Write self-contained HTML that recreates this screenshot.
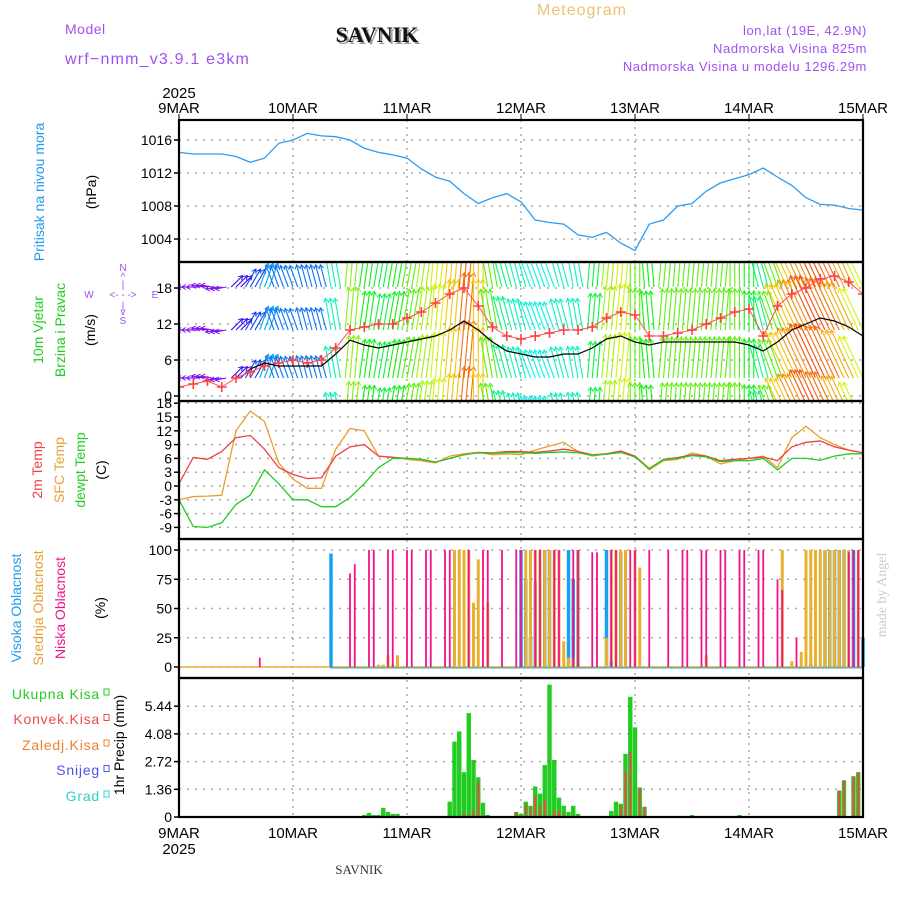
<!DOCTYPE html>
<html><head><meta charset="utf-8">
<style>
html,body{margin:0;padding:0;background:#fff;}
svg{display:block;font-family:"Liberation Sans",sans-serif;}
</style></head>
<body>
<svg id="chart" width="900" height="900" viewBox="0 0 900 900" xmlns="http://www.w3.org/2000/svg">
<defs>
<clipPath id="clipWind"><rect x="179" y="263" width="684" height="137"/></clipPath>
</defs>
<text x="582" y="15" fill="#f0c070" font-size="16" text-anchor="middle" letter-spacing="1">Meteogram</text>
<text x="65" y="34" fill="#a050f0" font-size="14" letter-spacing="0.5">Model</text>
<text x="379" y="44" fill="#999" font-size="22" font-weight="bold" font-family="Liberation Serif,serif" text-anchor="middle">SAVNIK</text>
<text x="377" y="42" fill="#111" font-size="22" font-weight="bold" font-family="Liberation Serif,serif" text-anchor="middle">SAVNIK</text>
<text x="65" y="64" fill="#a050f0" font-size="16" letter-spacing="1.2">wrf−nmm_v3.9.1 e3km</text>
<text x="867" y="35" fill="#a050f0" font-size="13" text-anchor="end" letter-spacing="0.6">lon,lat (19E, 42.9N)</text>
<text x="867" y="53" fill="#a050f0" font-size="13" text-anchor="end" letter-spacing="0.6">Nadmorska Visina 825m</text>
<text x="867" y="71" fill="#a050f0" font-size="13" text-anchor="end" letter-spacing="0.6">Nadmorska Visina u modelu 1296.29m</text>
<text x="179" y="98" fill="#000" font-size="15" text-anchor="middle">2025</text>
<g id="topTicks"></g>
<g id="grid"></g>
<g id="plots"></g>
<g id="frames"></g>
<g id="ylabels"></g>
<text transform="translate(44,192) rotate(-90)" fill="#1e9bf0" font-size="14" text-anchor="middle">Pritisak na nivou mora</text>
<text transform="translate(96,192) rotate(-90)" fill="#000" font-size="14" text-anchor="middle">(hPa)</text>
<text transform="translate(43,330) rotate(-90)" fill="#22cc22" font-size="14" text-anchor="middle">10m Vjetar</text>
<text transform="translate(65,330) rotate(-90)" fill="#22cc22" font-size="14" text-anchor="middle">Brzina i Pravac</text>
<text transform="translate(95,330) rotate(-90)" fill="#000" font-size="14" text-anchor="middle">(m/s)</text>
<g fill="#a050f0" font-size="10" text-anchor="middle">
<text x="123" y="271">N</text><text x="123" y="280">^</text><text x="123" y="288">|</text>
<text x="123" y="298">&lt;- - -&gt;</text><text x="89" y="298">W</text><text x="155" y="298">E</text>
<text x="123" y="309">|</text><text x="123" y="315">v</text><text x="123" y="324">S</text>
</g>
<text transform="translate(42,470) rotate(-90)" fill="#f04040" font-size="14" text-anchor="middle">2m Temp</text>
<text transform="translate(64,470) rotate(-90)" fill="#e8a030" font-size="14" text-anchor="middle">SFC Temp</text>
<text transform="translate(85,470) rotate(-90)" fill="#22cc22" font-size="14" text-anchor="middle">dewpt Temp</text>
<text transform="translate(106,470) rotate(-90)" fill="#000" font-size="14" text-anchor="middle">(C)</text>
<text transform="translate(21,608) rotate(-90)" fill="#1e9bf0" font-size="14" text-anchor="middle">Visoka Oblacnost</text>
<text transform="translate(43,608) rotate(-90)" fill="#e8a030" font-size="14" text-anchor="middle">Srednja Oblacnost</text>
<text transform="translate(65,608) rotate(-90)" fill="#f0148c" font-size="14" text-anchor="middle">Niska Oblacnost</text>
<text transform="translate(105,608) rotate(-90)" fill="#000" font-size="14" text-anchor="middle">(%)</text>
<text transform="translate(124,745) rotate(-90)" fill="#000" font-size="14" text-anchor="middle">1hr Precip (mm)</text>
<g font-size="14" text-anchor="end">
<text x="100" y="699" fill="#22cc22" letter-spacing="0.8">Ukupna Kisa</text>
<text x="100" y="724" fill="#f04848" letter-spacing="0.8">Konvek.Kisa</text>
<text x="100" y="750" fill="#f08030" letter-spacing="0.8">Zaledj.Kisa</text>
<text x="100" y="775" fill="#5050f0" letter-spacing="0.8">Snijeg</text>
<text x="100" y="801" fill="#30d0d0" letter-spacing="0.8">Grad</text>
</g>
<text transform="translate(886,595) rotate(-90)" fill="#ccc" font-size="14" font-family="Liberation Serif,serif" text-anchor="middle">made by Angel</text>
<text x="179" y="854" fill="#000" font-size="15" text-anchor="middle">2025</text>
<text x="359" y="874" fill="#333" font-size="13" font-family="Liberation Serif,serif" text-anchor="middle">SAVNIK</text>
</svg>
<script>
const days = ["9MAR","10MAR","11MAR","12MAR","13MAR","14MAR","15MAR"];
const pressure = [1014.5,1014.3,1014.3,1014.3,1014.0,1013.3,1013.8,1015.6,1016.0,1016.8,1016.5,1016.4,1016.0,1015.0,1014.5,1014.2,1013.8,1012.5,1011.5,1011.0,1009.5,1008.3,1009.0,1009.5,1008.5,1006.3,1006.0,1005.8,1004.5,1004.2,1004.8,1003.5,1002.6,1005.8,1006.3,1008.0,1008.3,1009.8,1010.8,1011.3,1011.8,1012.6,1011.5,1010.5,1009.0,1008.2,1008.1,1007.7,1007.5];
const windSpeed = [2.5,2.5,2.5,2.5,3.5,4.5,5.5,5,5,5,5,7,9.3,8.5,8,8.5,9,9.5,10,11,12.5,11,9,7.5,7,6.5,6.5,7,7,8,9.5,10,9,8.5,9,9,9,9,9,9,8.5,7.5,9,11,12,13,12.5,11.5,10];
const windGust = [1.5,2,2.5,1.5,3,4,5,5.5,6,5.5,6,8,11,11.5,12,12,13,14,15.5,17,18,15,11.5,10,9.5,10,10.5,11,11,11.5,13,14,13.5,10,10,10.5,11,12,13,14,14.5,10,15,17,18,19.5,20,19,17];
const windDir = [270,270,280,260,45,30,20,-20,-20,-15,-15,-10,5,8,10,10,10,8,5,5,5,0,-10,-15,-15,-20,-20,-15,-10,5,5,5,0,-5,5,5,5,5,5,0,0,-15,-20,-25,-25,-25,-25,-25,-25];
const temp2m = [0.5,6.2,5.8,7.5,10.5,11,8,4,2.5,1.6,1.8,6.5,8.5,9,6.5,6.2,6.0,5.8,5.2,6.0,6.8,7.3,7.2,7.5,7.5,7.3,7.6,8.0,7.5,6.8,7.0,7.6,6.5,3.8,5.8,6.2,6.8,6.5,5.5,5.8,6.0,6.3,5.5,8.5,9.5,9.8,8.5,7.8,7.2];
const tempSfc = [-3,-2.3,-2.2,-2,12,16.3,14,5,1.5,-0.5,-0.5,8,12.5,12,6.5,6.3,5.8,5.5,5,6.5,7,7.3,6.8,7,6.8,7.8,8.7,9.5,7.5,6.5,7,7.3,6.5,3.5,5.5,5.8,7.2,6.5,4.8,5.5,6,6.5,4,10.5,13,10.5,9,7.8,7.2];
const dewpoint = [-3,-8.8,-9,-8,-4,-2,3.5,0.5,-3,-3,-4.5,-4.5,-2.5,0.5,4,6,6,5.8,5.2,6,6.8,7.2,7.1,7.3,7.2,7.1,7.3,7.4,7.2,6.7,6.9,7.3,6.3,3.8,5.7,6,6.6,6.3,5.3,5.5,5.5,6,3.5,6,6,5.6,6.5,7,7];
const lowCloudHours = [17,36,37,40,41,44,45,48,49,52,53,56,57,61,64,65,68,71,72,75,76,79,80,83,84,87,88,91,92,95,96,99,103,106,107,110,111,114,115,118,119,122,123,126,127,130,141,142,143];
const lowCloudPct = [8,80,88,100,100,100,100,100,100,100,100,100,100,100,100,100,100,100,100,100,100,100,100,100,100,98,98,100,100,100,100,100,100,100,100,100,100,100,100,100,100,100,100,75,66,25,98,100,100];
const midCloudHours = [42,43,44,45,46,58,59,60,61,62,63,65,73,74,75,76,77,78,79,80,81,82,83,84,90,91,92,93,94,96,97,111,127,129,131,132,133,134,135,136,137,138,139,140,141,143];
const midCloudPct = [2,2,10,2,10,100,100,100,100,55,92,55,100,100,100,100,100,100,100,100,22,8,8,100,25,100,100,100,100,100,85,10,100,5,13,100,100,100,100,100,100,100,100,100,100,100];
const highCloudHours = [32,72,73,74,75,77,78,82,83,84,90,91,93,133,136,137,138,139,140,142,144];
const highCloudPct = [97,100,75,25,73,100,100,100,75,100,100,5,98,3,100,100,100,100,100,100,25];
const precipHours = [39,40,41,42,43,44,45,46,47,48,49,50,51,52,57,58,59,60,61,62,63,64,65,67,68,71,72,73,74,75,76,77,78,79,80,81,82,83,84,91,92,93,94,95,96,97,98,108,118,139,140,142,143];
const precipTotal = [0.1,0.2,0.1,0.1,0.45,0.25,0.15,0.15,0.05,0.05,0.05,0.05,0.05,0.05,0.75,3.7,4.2,2.2,5.1,2.8,1.95,0.7,0.1,0.05,0.05,0.25,0.15,0.75,0.55,1.5,1.15,2.55,6.5,2.8,0.95,0.55,0.25,0.55,0.15,0.3,0.75,0.65,3.1,5.9,4.4,1.45,0.5,0.1,0.1,1.3,1.8,2.0,2.2];
const precipConv = [0,0,0,0,0,0,0,0,0,0,0,0,0,0,0,0.05,0,0.2,0.1,0.3,1.7,0.1,0,0,0,0.25,0,0.6,0.45,1.05,0.55,0.85,0.1,0.35,0.3,0.15,0,0,0,0,0,0.55,2.25,3.2,0,1.45,0.5,0,0,1.3,1.8,2.0,2.2];
const pTicks = [1004,1008,1012,1016];
const wTicks = [0,6,12,18];
const tTicks = [-9,-6,-3,0,3,6,9,12,15,18];
const cTicks = [0,25,50,75,100];
const rTicks = [0,1.36,2.72,4.08,5.44];

const NS="http://www.w3.org/2000/svg";
const X0=179, X1=863, HOURS=144;
const xH = h => X0 + h*(X1-X0)/HOURS;
const x3 = i => xH(i*3);
const yP = p => 140 + (1016-p)*8.25;
const yW = v => 396 - v*6;
const yT = t => 486 - t*4.6;
const yC = c => 667 - c*1.17;
const yR = r => 817 - r*20.37;
function mk(tag, attrs, parent){const e=document.createElementNS(NS,tag);for(const k in attrs)e.setAttribute(k,attrs[k]);parent.appendChild(e);return e;}
const grid=document.getElementById('grid'), plots=document.getElementById('plots'), frames=document.getElementById('frames'), ylab=document.getElementById('ylabels'), topT=document.getElementById('topTicks');
const panels=[[120,262],[262,401],[401,539],[539,678],[678,817]];
days.forEach((d,i)=>{
  const x=xH(i*24);
  let t=mk('text',{x:x,y:113,'font-size':15,'text-anchor':'middle',fill:'#000'},topT);t.textContent=d;
  
  
  let b=mk('text',{x:x,y:838,'font-size':15,'text-anchor':'middle',fill:'#000'},topT);b.textContent=d;
  
  
  if(i>0&&i<6){let l=mk('line',{x1:x,x2:x,y1:120,y2:817,stroke:'#aaa','stroke-width':1.5,'stroke-dasharray':'2,5'},grid);
  
  }
  mk('line',{x1:x,x2:x,y1:114,y2:121,stroke:'#000','stroke-width':1},frames);
});
function hgrid(ticks, yf, fmt, name){
  ticks.forEach(v=>{
    const y=yf(v);
    let l=mk('line',{x1:X0,x2:X1,y1:y,y2:y,stroke:'#aaa','stroke-width':1.5,'stroke-dasharray':'2,6'},grid);
    
    
    mk('line',{x1:X0-5,x2:X0,y1:y,y2:y,stroke:'#000','stroke-width':1.5},frames);
    let t=mk('text',{x:X0-7,y:y+5,'font-size':14,'text-anchor':'end',fill:'#000'},ylab);
    t.textContent=fmt(v);
    
    
  });
}
hgrid(pTicks,yP,v=>v,'pressure');
hgrid(wTicks,yW,v=>v,'wind');
hgrid(tTicks,yT,v=>v,'temp');
hgrid(cTicks,yC,v=>v,'cloud');
hgrid(rTicks,yR,v=>v===0?'0':v.toFixed(2),'precip');
panels.forEach(([a,b])=>{
  let r=mk('rect',{x:X0,y:a,width:X1-X0,height:b-a,fill:'none',stroke:'#000','stroke-width':2.2},frames);
  
  
});
let pl=mk('polyline',{points:pressure.map((p,i)=>x3(i)+','+yP(p)).join(' '),fill:'none',stroke:'#2a9df4','stroke-width':1.3},plots);


function hueFor(v){
  const s=[[2,280],[4,240],[5.5,200],[7,165],[8.5,120],[9.5,80],[10.5,55],[12,35],[13.5,8],[15,-25]];
  if(v<=s[0][0])return 280;
  for(let k=1;k<s.length;k++){if(v<=s[k][0]){const f=(v-s[k-1][0])/(s[k][0]-s[k-1][0]);return s[k-1][1]+f*(s[k][1]-s[k-1][1]);}}
  return -25;
}
const wg=mk('g',{'clip-path':'url(#clipWind)'},plots);


const rowBases=[287,330,378,424];
windSpeed.forEach((v,i)=>{
  const col='hsl('+((hueFor(v)+360)%360)+',90%,50%)';
  const ang=windDir[i]*Math.PI/180, len=Math.max(9,v*4.6);
  const dx=Math.sin(ang)*len, dy=-Math.cos(ang)*len;
  [-1,0,1].forEach(o=>{
    const h=i*3+o; if(h<0||h>HOURS)return;
    const x=xH(h);
    rowBases.forEach(b=>{
      const x2=x+dx, y2=b+dy;
      let a=mk('line',{x1:x,y1:b,x2:x2,y2:y2,stroke:col,'stroke-width':1.1},wg);
      
      
      const ux=dx/len, uy=dy/len;
      mk('polyline',{points:(x2-ux*4-uy*2.5)+','+(y2-uy*4+ux*2.5)+' '+x2+','+y2+' '+(x2-ux*4+uy*2.5)+','+(y2-uy*4-ux*2.5),fill:'none',stroke:col,'stroke-width':1},wg);
    });
  });
});
const gg=mk('g',{'clip-path':'url(#clipWind)'},plots);
mk('polyline',{points:windGust.map((g,i)=>x3(i)+','+yW(g)).join(' '),fill:'none',stroke:'#ff5050','stroke-width':1},gg);
windGust.forEach((g,i)=>{
  const x=x3(i),y=yW(g);
  let p=mk('path',{d:'M'+(x-5)+' '+y+'H'+(x+5)+'M'+x+' '+(y-5)+'V'+(y+5),stroke:'#ff4040','stroke-width':1.6},gg);
  
  
});
let sl=mk('polyline',{points:windSpeed.slice(5).map((v,i)=>x3(i+5)+','+yW(v)).join(' '),fill:'none',stroke:'#000','stroke-width':1.2},plots);


[[tempSfc,'#e8a030','sfc-temp-line'],[temp2m,'#f04040','temp-2m-line'],[dewpoint,'#22cc22','dewpoint-line']].forEach(([arr,c,n])=>{
  let l=mk('polyline',{points:arr.map((t,i)=>x3(i)+','+yT(t)).join(' '),fill:'none',stroke:c,'stroke-width':1.3},plots);
  
  
});
mk('line',{x1:X0,x2:X1,y1:yC(0),y2:yC(0),stroke:'#e8b030','stroke-width':1.5},plots);
mk('line',{x1:330,x2:X1,y1:yC(0)+1,y2:yC(0)+1,stroke:'#1aa0f0','stroke-width':1},plots);
function cloudBars(hours,pcts,w,col,name){
  hours.forEach((h,i)=>{
    const y=yC(pcts[i]);
    let r=mk('rect',{x:xH(h)-w/2,y:y,width:w,height:yC(0)-y,fill:col},plots);
    
    
  });
}
cloudBars(highCloudHours,highCloudPct,3.5,'#1aa0f0','high-cloud-bar');
cloudBars(midCloudHours,midCloudPct,3,'#e8b030','mid-cloud-bar');
cloudBars(lowCloudHours,lowCloudPct,1.8,'#f0148c','low-cloud-bar');
precipHours.forEach((h,i)=>{
  const x=xH(h);
  const yt=yR(precipTotal[i]);
  let r=mk('rect',{x:x-2.2,y:yt,width:4.4,height:817-yt,fill:'#22cc22'},plots);
  
  
  if(precipConv[i]>0){
    const yc=yR(precipConv[i]);
    let c=mk('rect',{x:x-1,y:yc,width:2,height:817-yc,fill:'#f04848'},plots);
    
    
  }
});
['#22cc22','#f04848','#f08030','#5050f0','#30d0d0'].forEach((c,i)=>{
  let s=mk('rect',{x:104,y:689+i*25.5,width:5,height:6,fill:'none',stroke:c,'stroke-width':1},frames);
  
  
});
</script>
</body></html>
